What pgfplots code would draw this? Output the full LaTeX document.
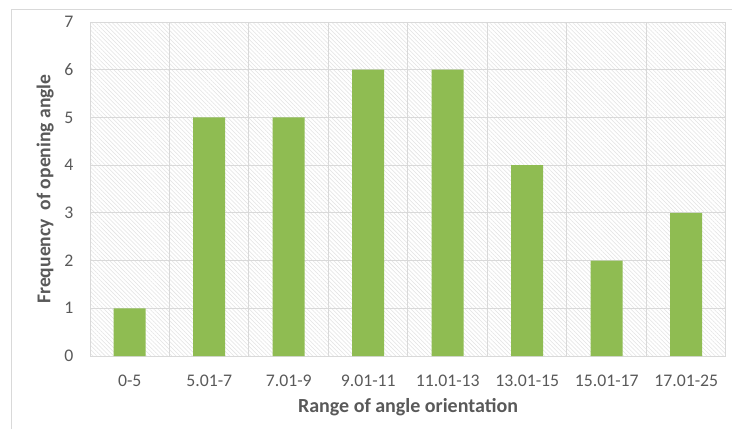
\documentclass[border=0pt]{standalone}
\usepackage{pgfplots}
\pgfplotsset{compat=1.18}
\usepackage{fontspec}
\setmainfont{Carlito}
\usetikzlibrary{patterns.meta}
\definecolor{bargreen}{HTML}{8FBC52}
\definecolor{gridgray}{HTML}{D9D9D9}
\definecolor{txtgray}{HTML}{595959}

\pgfplotstableread{
idx freq
0 1
1 5
2 5
3 6
4 6
5 4
6 2
7 3
}\freqdata

\begin{document}
\begin{tikzpicture}[x=0.75pt,y=0.75pt]
\path[use as bounding box] (0,0) rectangle (732,429);
\draw[gridgray] (11,0) -- (11,420) -- (732,420);
\begin{axis}[
  at={(90*0.75pt,73*0.75pt)}, anchor=south west,
  scale only axis, width=477pt, height=250.5pt,
  xmin=-0.5, xmax=7.5, ymin=0, ymax=7,
  ytick={0,...,7},
  xtick=data,
  xticklabels={0-5,5.01-7,7.01-9,9.01-11,11.01-13,13.01-15,15.01-17,17.01-25},
  extra x ticks={0.5,1.5,...,6.5},
  extra x tick labels={},
  extra x tick style={grid=major, major tick length=0pt},
  xmajorgrids=false,
  ymajorgrids=true,
  major grid style={gridgray, line width=0.75pt},
  axis line style={gridgray, line width=0.75pt},
  major tick length=0pt,
  tick label style={font=\fontsize{13.3}{15}\selectfont, text=txtgray},
  yticklabel style={xshift=-9pt},
  xticklabel style={yshift=-11pt},
  xlabel={Range of angle orientation},
  ylabel={Frequency\ \ of opening angle},
  xlabel style={font=\bfseries\fontsize{15}{17}\selectfont, text=txtgray, yshift=-2pt},
  ylabel style={font=\bfseries\fontsize{14.7}{17}\selectfont, text=txtgray, yshift=1pt},
  axis background/.style={preaction={fill=white}, pattern={Lines[angle=-45,distance=2.2pt,line width=0.4pt]}, pattern color=gray!22},
  /pgf/number format/assume math mode=true,
]
\addplot[ybar, bar width=24pt, fill=bargreen, draw=none] table[x=idx, y=freq] {\freqdata};
\end{axis}
\end{tikzpicture}
\end{document}
